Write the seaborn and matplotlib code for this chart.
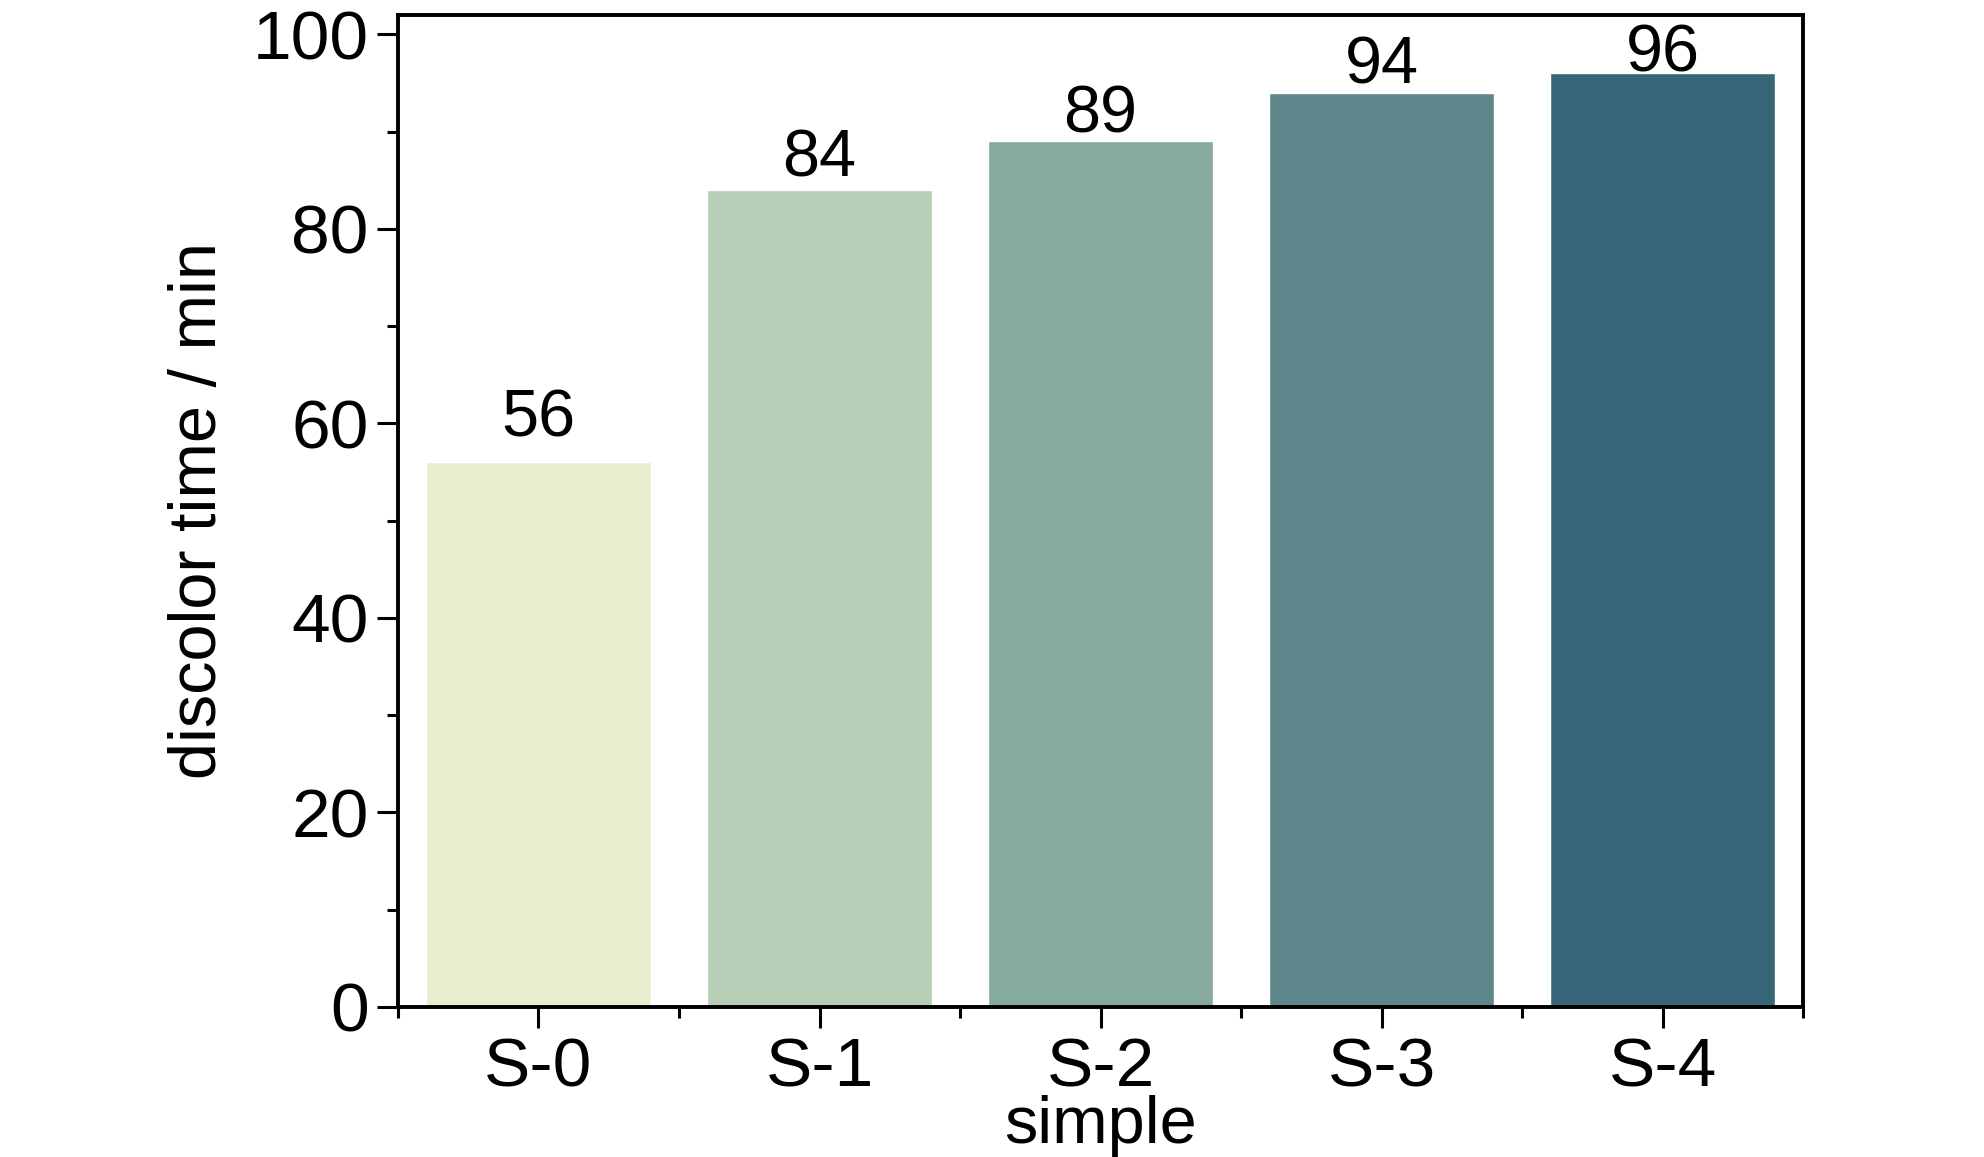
import matplotlib
matplotlib.use("Agg")
import matplotlib.pyplot as plt
import seaborn as sns
import pandas as pd
from matplotlib import font_manager
from matplotlib.ticker import MultipleLocator, FixedLocator

samples = ["S-0", "S-1", "S-2", "S-3", "S-4"]
times = [56, 84, 89, 94, 96]
bar_colors = ["#E9EECE", "#B6CEB5", "#87AA9F", "#5E878C", "#386679"]
# gap between each bar and its value label, in points (hand-placed in the original)
label_pads = [8.5, -0.5, -3.5, -3.5, -9.0]

df = pd.DataFrame({"sample": samples, "time": times})

sns.set_style("ticks")
names = {f.name for f in font_manager.fontManager.ttflist}
family = "Liberation Sans Narrow" if "Liberation Sans Narrow" in names else "Liberation Sans"
plt.rcParams["font.family"] = [family, "DejaVu Sans"]
for key in ["text.color", "axes.labelcolor", "xtick.color", "ytick.color", "axes.edgecolor"]:
    plt.rcParams[key] = "black"

fig = plt.figure(figsize=(19.84, 11.57), dpi=100)
ax = fig.add_axes([0.2006, 0.1297, 0.7082, 0.8573])

sns.barplot(data=df, x="sample", y="time", hue="sample", palette=bar_colors,
            legend=False, width=0.8, saturation=1, ax=ax)

for c, pad in zip(ax.containers, label_pads):
    ax.bar_label(c, fontsize=48, padding=pad)

ax.set_xlim(-0.5, 4.5)
ax.set_ylim(0, 102)
ax.yaxis.set_major_locator(MultipleLocator(20))
ax.yaxis.set_minor_locator(MultipleLocator(10))
ax.xaxis.set_minor_locator(FixedLocator([-0.5, 0.5, 1.5, 2.5, 3.5, 4.5]))

for s in ax.spines.values():
    s.set_visible(True)
    s.set_linewidth(2.8)
    s.set_color("black")

ax.tick_params(axis="both", which="major", labelsize=50, width=2.2, length=15, pad=6, direction="out")
ax.tick_params(axis="both", which="minor", width=2.2, length=8, direction="out")
ax.tick_params(top=False, right=False, which="both")

ax.set_xlabel("simple", fontsize=48, labelpad=-4)
ax.set_ylabel("discolor time / min", fontsize=48, labelpad=16)

fig.savefig("out.png", dpi=100, facecolor="white")
